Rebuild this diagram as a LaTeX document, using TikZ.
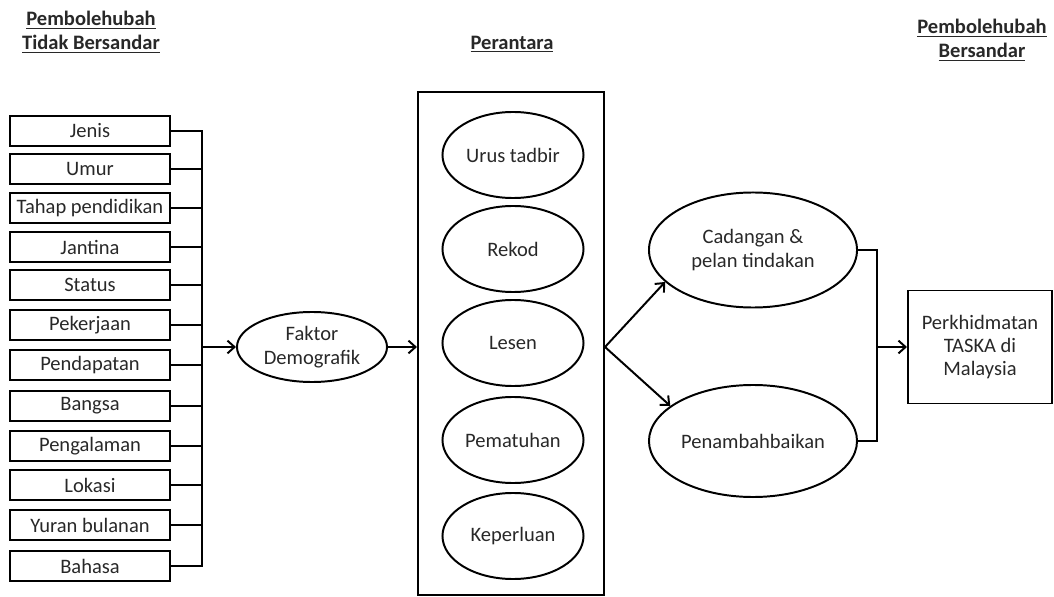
\documentclass[tikz,border=0pt]{standalone}
\usepackage{fontspec}
\setmainfont{Carlito}
\usetikzlibrary{arrows.meta,shapes.geometric}
\definecolor{txtgray}{RGB}{40,40,40}

\begin{document}
\begin{tikzpicture}[x=0.025cm, y=-0.025cm,
    every node/.style={font=\fontsize{14.6}{16.6}\selectfont, text=txtgray},
    varbox/.style={draw, line width=1.4pt, minimum width=4cm, minimum height=0.74cm, inner sep=0pt},
    oval/.style={draw, ellipse, line width=1.4pt, inner sep=0pt, align=center},
    head/.style={font=\fontsize{14.6}{17}\selectfont\bfseries, align=center},
    wire/.style={line width=1.4pt},
    arr/.style={wire, -{Straight Barb[length=5pt,width=9pt]}}]
                            \useasboundingbox (0,0) rectangle (1054,597);
                            % Headings:
                            \node[head] (hleft) at (91,32) {\underline{Pembolehubah}\\\underline{Tidak Bersandar}};
                            \node[head] (hmid) at (512,44) {\underline{Perantara}};
                            \node[head] (hright) at (982,40) {\underline{Pembolehubah}\\\underline{Bersandar}};
                            % Independent variables:
                            \foreach \name/\yy [count=\i] in {Jenis/131, Umur/169, Tahap pendidikan/208, Jantina/247, Status/285, Pekerjaan/325, Pendapatan/365, Bangsa/406, Pengalaman/446, Lokasi/485, Yuran bulanan/525, Bahasa/566}
                                \node[varbox] (v\i) at (90,\yy) {\name};
                            \node[oval, minimum width=3.75cm, minimum height=1.75cm] (dem) at (312,347) {Faktor\\Demografik};
                            \coordinate (bus) at (202,347);
                            \draw[wire] (v1.east) -| (bus) |- (v12.east);
                            \foreach \i in {2,...,11}
                                \draw[wire] (v\i.east) -- (v\i.east -| bus);
                            \draw[arr] (bus) -- (dem.west);
                            % Mediators:
                            \node[draw, line width=1.4pt, minimum width=4.65cm, minimum height=12.575cm] (med) at (511,343.5) {};
                            \foreach \name/\yy [count=\i] in {Urus tadbir/155, Rekod/249, Lesen/343, Pematuhan/440, Keperluan/536}
                                \node[oval, minimum width=3.525cm, minimum height=2.15cm] (m\i) at (513,\yy) {\name};
                            \draw[arr] (dem.east) -- (dem.east -| med.west);
                            % Outcomes:
                            \node[oval, minimum width=5.2cm, minimum height=2.875cm] (cad) at (753,250) {Cadangan \&\\pelan tindakan};
                            \node[oval, minimum width=5.2cm, minimum height=2.8cm] (pen) at (753,441) {Penambahbaikan};
                            \coordinate (fork) at (dem.east -| med.east);
                            \draw[arr] (fork) -- (cad.200);
                            \draw[arr] (fork) -- (pen.157);
                            \node[draw, line width=1.4pt, minimum width=3.6cm, minimum height=2.825cm, align=center] (taska) at (980,347) {Perkhidmatan\\TASKA di\\Malaysia};
                            \coordinate (rbus) at (877,347);
                            \draw[wire] (cad.east) -| (rbus) |- (pen.east);
                            \draw[arr] (rbus) -- (rbus -| taska.west);
                        \end{tikzpicture}
\end{document}
